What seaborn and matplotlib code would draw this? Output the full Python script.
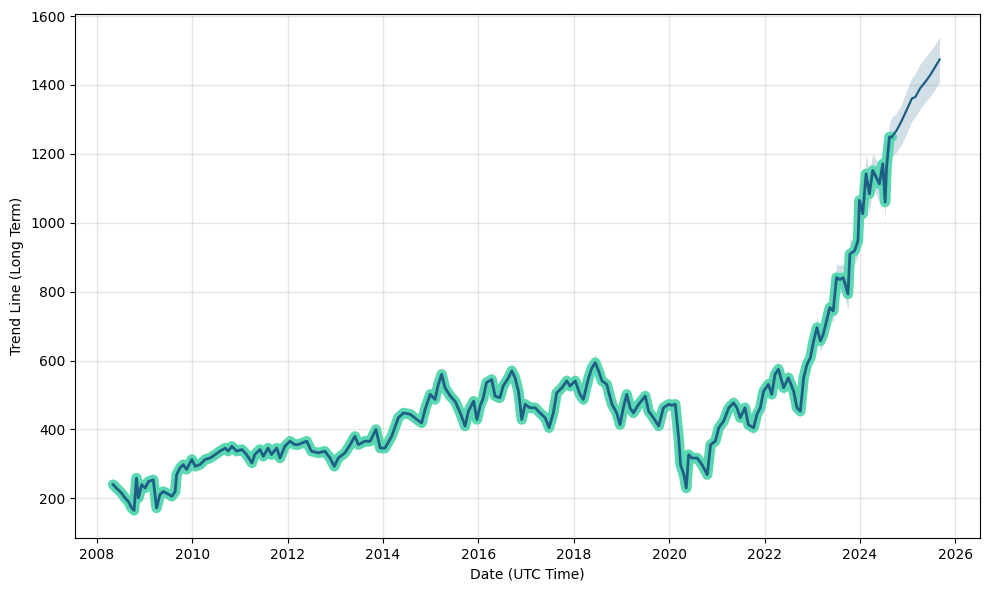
import numpy as np
import pandas as pd
import matplotlib
matplotlib.use("Agg")
import matplotlib.pyplot as plt
import matplotlib.dates as mdates
import seaborn as sns

# ---- data (decimal years) ----
hist_years = [
    2008.34, 2008.41, 2008.52, 2008.59, 2008.66, 2008.73, 2008.78, 2008.83, 2008.87, 2008.94,
    2009.01, 2009.08, 2009.18, 2009.25, 2009.32, 2009.39, 2009.46, 2009.57, 2009.64, 2009.67,
    2009.74, 2009.81, 2009.88, 2009.99, 2010.06, 2010.16, 2010.27, 2010.37, 2010.48, 2010.58,
    2010.69, 2010.75, 2010.83, 2010.93, 2011.04, 2011.14, 2011.25, 2011.31, 2011.42, 2011.49,
    2011.59, 2011.66, 2011.77, 2011.84, 2011.94, 2012.05, 2012.15, 2012.22, 2012.40, 2012.50,
    2012.64, 2012.78, 2012.89, 2012.98, 2013.06, 2013.20, 2013.31, 2013.41, 2013.48, 2013.62,
    2013.73, 2013.85, 2013.94, 2014.04, 2014.18, 2014.32, 2014.43, 2014.57, 2014.71, 2014.81,
    2014.88, 2014.99, 2015.09, 2015.16, 2015.23, 2015.30, 2015.41, 2015.51, 2015.62, 2015.72,
    2015.79, 2015.90, 2015.97, 2016.04, 2016.10, 2016.17, 2016.28, 2016.35, 2016.45, 2016.52,
    2016.63, 2016.70, 2016.77, 2016.84, 2016.91, 2016.98, 2017.08, 2017.19, 2017.29, 2017.40,
    2017.48, 2017.57, 2017.64, 2017.75, 2017.85, 2017.92, 2018.03, 2018.13, 2018.20, 2018.31,
    2018.38, 2018.45, 2018.52, 2018.59, 2018.69, 2018.80, 2018.90, 2018.97, 2019.04, 2019.11,
    2019.18, 2019.25, 2019.36, 2019.50, 2019.57, 2019.67, 2019.78, 2019.88, 2019.99, 2020.06,
    2020.13, 2020.20, 2020.24, 2020.31, 2020.36, 2020.41, 2020.48, 2020.59, 2020.69, 2020.80,
    2020.87, 2020.97, 2021.04, 2021.14, 2021.25, 2021.35, 2021.42, 2021.49, 2021.59, 2021.66,
    2021.77, 2021.84, 2021.91, 2021.98, 2022.08, 2022.15, 2022.22, 2022.29, 2022.40, 2022.50,
    2022.61, 2022.68, 2022.75, 2022.82, 2022.89, 2022.96, 2023.03, 2023.10, 2023.17, 2023.23,
    2023.30, 2023.37, 2023.44, 2023.51, 2023.58, 2023.65, 2023.75, 2023.79, 2023.89, 2023.96,
    2023.99, 2024.06, 2024.13, 2024.20, 2024.27, 2024.34, 2024.41, 2024.48, 2024.53, 2024.56,
    2024.62, 2024.67,
]
hist_values = [
    240, 230, 215, 201, 191, 172, 165, 259, 201, 240,
    230, 249, 254, 172, 211, 220, 215, 206, 220, 269,
    288, 298, 284, 313, 293, 298, 313, 317, 327, 337,
    346, 337, 351, 337, 342, 327, 303, 327, 342, 322,
    346, 327, 346, 317, 351, 366, 356, 356, 366, 337,
    332, 337, 317, 293, 317, 332, 356, 380, 356, 366,
    366, 400, 346, 346, 380, 434, 448, 444, 429, 419,
    458, 502, 487, 531, 560, 521, 497, 482, 448, 410,
    453, 482, 429, 470, 490, 536, 545, 497, 492, 526,
    550, 570, 550, 511, 429, 473, 463, 463, 448, 434,
    405, 448, 506, 521, 541, 526, 541, 502, 487, 550,
    579, 594, 570, 541, 531, 473, 448, 414, 463, 502,
    463, 448, 473, 497, 453, 434, 410, 463, 473, 470,
    473, 376, 298, 269, 230, 327, 317, 317, 298, 269,
    356, 366, 405, 424, 463, 477, 463, 434, 463, 414,
    405, 444, 463, 511, 531, 502, 560, 575, 521, 550,
    511, 463, 453, 550, 589, 608, 657, 696, 657, 676,
    715, 754, 744, 841, 835, 841, 793, 909, 919, 948,
    1065, 1026, 1142, 1084, 1152, 1133, 1113, 1171, 1060, 1162,
    1249, 1249,
]
# half-width of the uncertainty band along the history
hist_band = [
    14, 14, 14, 14, 14, 14, 16, 16, 14, 14,
    14, 14, 14, 16, 14, 14, 14, 14, 14, 16,
    14, 14, 14, 14, 14, 14, 14, 14, 14, 14,
    14, 14, 14, 14, 14, 14, 14, 14, 14, 14,
    14, 14, 14, 14, 14, 16, 14, 14, 14, 14,
    14, 14, 14, 16, 14, 14, 14, 16, 14, 14,
    14, 18, 14, 14, 14, 16, 16, 14, 14, 14,
    16, 18, 16, 18, 22, 18, 16, 16, 16, 16,
    16, 18, 16, 16, 18, 20, 20, 18, 16, 18,
    20, 22, 20, 18, 16, 18, 16, 16, 16, 16,
    16, 16, 18, 18, 20, 18, 18, 18, 18, 20,
    22, 24, 20, 18, 18, 18, 16, 16, 18, 20,
    18, 16, 18, 18, 16, 16, 16, 18, 18, 18,
    18, 18, 16, 16, 18, 18, 16, 16, 16, 16,
    16, 16, 18, 18, 20, 20, 18, 18, 18, 18,
    18, 18, 20, 22, 22, 20, 24, 24, 20, 22,
    20, 18, 18, 22, 24, 26, 28, 30, 30, 30,
    32, 34, 34, 40, 40, 40, 45, 40, 40, 45,
    50, 50, 60, 55, 50, 50, 55, 55, 55, 45,
    40, 58,
]

fc_years = [2024.67, 2024.77, 2024.88, 2024.98, 2025.09, 2025.16, 2025.26, 2025.37,
            2025.47, 2025.58, 2025.67]
fc_values = [1249, 1268, 1297, 1327, 1361, 1365, 1390, 1409, 1428, 1453, 1474]
fc_upper = [1307, 1318, 1345, 1385, 1422, 1433, 1460, 1480, 1497, 1518, 1540]
fc_lower = [1191, 1205, 1228, 1258, 1295, 1307, 1330, 1350, 1366, 1388, 1409]

y_ticks = [200, 400, 600, 800, 1000, 1200, 1400, 1600]


def to_dates(years):
    out = []
    for y in years:
        yi = int(np.floor(y))
        start = pd.Timestamp(year=yi, month=1, day=1)
        out.append(start + pd.Timedelta(days=(y - yi) * 365.25))
    return pd.DatetimeIndex(out)


hd = to_dates(hist_years)
fd = to_dates(fc_years)
hv = np.array(hist_values, float)
hb = np.array(hist_band, float)

TURQ = "#5ad8b2"
DARK = "#1f5f85"

fig = plt.figure(figsize=(9.89, 5.89), dpi=100)
ax = fig.add_axes([0.0758, 0.0866, 0.9152, 0.8896])

# uncertainty band
ax.fill_between(hd, hv - hb, hv + hb, color=DARK, alpha=0.2, lw=0)
ax.fill_between(fd, fc_lower, fc_upper, color=DARK, alpha=0.2, lw=0)

# actual data (thick turquoise) and trend line
sns.lineplot(x=hd, y=hv, ax=ax, color=TURQ, lw=7.5, solid_joinstyle="round",
             solid_capstyle="round")
sns.lineplot(x=hd, y=hv, ax=ax, color=DARK, lw=2.0)
sns.lineplot(x=fd, y=fc_values, ax=ax, color=DARK, lw=1.6)

ax.set_xlim(to_dates([2007.54])[0], to_dates([2026.52])[0])
ax.set_ylim(85, 1606)
ax.set_yticks(y_ticks)
ax.xaxis.set_major_locator(mdates.YearLocator(2))
ax.xaxis.set_major_formatter(mdates.DateFormatter("%Y"))
ax.grid(True, which="major", color="gray", ls="-", lw=1, alpha=0.2)
ax.set_xlabel("Date (UTC Time)")
ax.set_ylabel("Trend Line (Long Term)")

fig.savefig("out.png", dpi=100)
